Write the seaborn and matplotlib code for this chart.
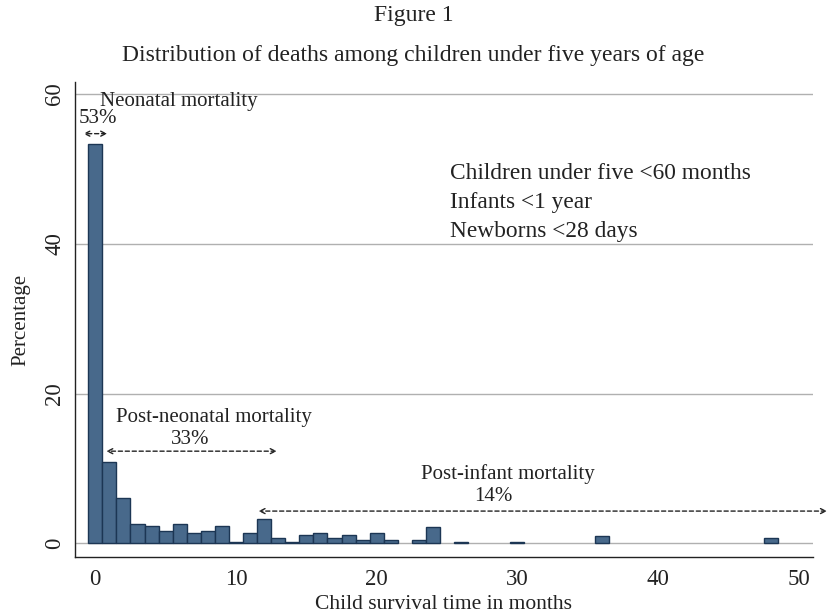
import numpy as np
import pandas as pd
import matplotlib
matplotlib.use("Agg")
import matplotlib.pyplot as plt
import seaborn as sns

# Data: percentage of deaths per survival month
months = [0, 1, 2, 3, 4, 5, 6, 7, 8, 9, 10, 11, 12, 13, 14, 15, 16, 17, 18,
          19, 20, 21, 23, 24, 26, 30, 36, 48]
percent = [53.3, 10.8, 6.1, 2.6, 2.27, 1.64, 2.6, 1.42, 1.64, 2.27, 0.12, 1.42,
           3.2, 0.76, 0.12, 1.07, 1.42, 0.67, 1.07, 0.5, 1.38, 0.45, 0.45,
           2.24, 0.15, 0.15, 0.91, 0.69]

xticks = [0, 10, 20, 30, 40, 50]
yticks = [0, 20, 40, 60]

title_lines = ["Figure 1", "Distribution of deaths among children under five years of age"]
legend_lines = ["Children under five <60 months", "Infants <1 year", "Newborns <28 days"]

df = pd.DataFrame({"months": months, "percent": percent})

sns.set_theme(style="white")
plt.rcParams["font.family"] = ["Liberation Serif", "DejaVu Serif"]
plt.rcParams["text.color"] = "#222222"

fig = plt.figure(figsize=(8.27, 6.16), dpi=100)
ax = fig.add_axes([0.0907, 0.0958, 0.983 - 0.0907, 0.8669 - 0.0958])

# gridlines
for yv in yticks:
    ax.axhline(yv, color="#b0b0b0", lw=1.0, zorder=0)

sns.histplot(data=df, x="months", weights="percent", discrete=True,
             color="#48698b", edgecolor="#1c3654", linewidth=1.0,
             alpha=1.0, ax=ax, zorder=2)
for p in ax.patches:
    if p.get_height() <= 0:
        p.set_visible(False)

ax.set_xlim(-1.44, 51.0)
ax.set_ylim(-1.83, 61.6)
ax.set_xticks(xticks)
ax.set_yticks(yticks)
ax.tick_params(axis="both", direction="out", length=6, width=1.0, color="#222222",
               labelsize=16.5, labelcolor="#222222", pad=3)
ax.tick_params(axis="y", pad=1)
for lab in ax.get_yticklabels():
    lab.set_rotation(90)
    lab.set_va("center")

for s in ["top", "right"]:
    ax.spines[s].set_visible(False)
for s in ["left", "bottom"]:
    ax.spines[s].set_color("#222222")
    ax.spines[s].set_linewidth(1.0)

ax.set_xlabel("Child survival time in months", fontsize=15.5, labelpad=3, color="#222222")
ax.set_ylabel("Percentage", fontsize=15, labelpad=10, color="#222222")

fig.text(0.5, 1 - 15 / 616, title_lines[0], ha="center", va="center", fontsize=17)
fig.text(0.5, 1 - 55 / 616, title_lines[1], ha="center", va="center", fontsize=17)

# legend-like text block
for i, t in enumerate(legend_lines):
    ax.text(25.2, 49.4 - i * 3.9, t, ha="left", va="center", fontsize=16.8)

arrow_kw = dict(arrowstyle="<->", linestyle=(0, (3, 2)), color="#222222", lw=1.0,
                shrinkA=0, shrinkB=0, mutation_scale=9)

# Neonatal
ax.text(0.35, 59.0, "Neonatal mortality", ha="left", va="center", fontsize=15)
ax.text(0.2, 56.7, "53%", ha="center", va="center", fontsize=15)
ax.annotate("", xy=(-0.85, 54.7), xytext=(0.85, 54.7), arrowprops=arrow_kw,
            annotation_clip=False)

# Post-neonatal
ax.text(8.4, 16.8, "Post-neonatal mortality", ha="center", va="center", fontsize=15)
ax.text(6.75, 13.9, "33%", ha="center", va="center", fontsize=15)
ax.annotate("", xy=(0.78, 12.3), xytext=(12.9, 12.3), arrowprops=arrow_kw,
            annotation_clip=False)

# Post-infant
ax.text(29.35, 9.2, "Post-infant mortality", ha="center", va="center", fontsize=15)
ax.text(28.3, 6.3, "14%", ha="center", va="center", fontsize=15)
ax.annotate("", xy=(11.6, 4.3), xytext=(52.0, 4.3), arrowprops=arrow_kw,
            annotation_clip=False)

fig.savefig("out.png", dpi=100, facecolor="white")
